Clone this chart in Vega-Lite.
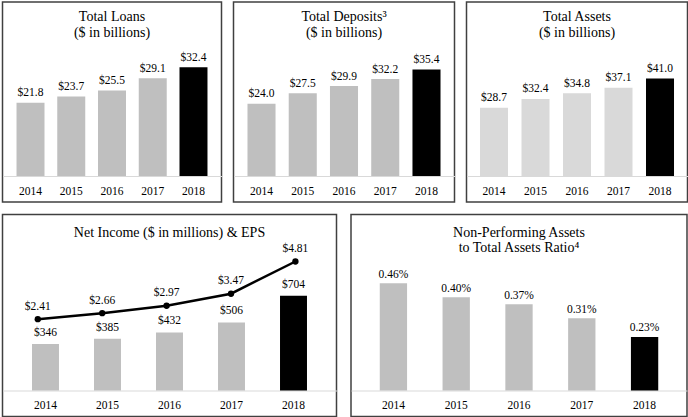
{
  "$schema": "https://vega.github.io/schema/vega-lite/v6.json",
  "background": "white",
  "padding": {"left": 1.5, "top": 1, "right": 0, "bottom": 0},
  "data": {
    "values": [
      {"year": "2014", "loans": 21.8, "deposits": 24.0, "assets": 28.7, "netIncome": 346, "eps": 2.41, "npa": 0.0046},
      {"year": "2015", "loans": 23.7, "deposits": 27.5, "assets": 32.4, "netIncome": 385, "eps": 2.66, "npa": 0.0040},
      {"year": "2016", "loans": 25.5, "deposits": 29.9, "assets": 34.8, "netIncome": 432, "eps": 2.97, "npa": 0.0037},
      {"year": "2017", "loans": 29.1, "deposits": 32.2, "assets": 37.1, "netIncome": 506, "eps": 3.47, "npa": 0.0031},
      {"year": "2018", "loans": 32.4, "deposits": 35.4, "assets": 41.0, "netIncome": 704, "eps": 4.81, "npa": 0.0023}
    ]
  },
  "config": {
    "view": {"stroke": "#404040", "strokeWidth": 1.5},
    "font": "Liberation Serif, serif",
    "title": {"font": "Liberation Serif, serif", "fontSize": 14, "fontWeight": "normal", "color": "#000000", "lineHeight": 15.5, "baseline": "alphabetic", "frame": "group", "anchor": "middle"},
    "axis": {"grid": false, "title": null, "ticks": false, "tickSize": 0, "domainColor": "#d9d9d9", "domainWidth": 1, "labelFont": "Liberation Serif, serif", "labelFontSize": 11.5, "labelColor": "#000000", "labelBaseline": "middle", "labelAngle": 0, "offset": -26},
    "text": {"font": "Liberation Serif, serif", "fontSize": 11.5, "color": "#000000", "baseline": "alphabetic"}
  },
  "spacing": 10.5,
  "vconcat": [
    {
      "spacing": 10,
      "hconcat": [
        {
          "width": 219, "height": 200,
          "title": {"text": ["Total Loans", "($ in billions)"], "offset": -37.5},
          "encoding": {
            "x": {"field": "year", "type": "nominal", "scale": {"paddingInner": 0.313, "paddingOuter": 0.344}, "axis": {"labelPadding": 15.5}},
            "y": {"field": "loans", "type": "quantitative", "scale": {"domain": [-7.75, 51.86], "nice": false, "zero": false}, "axis": null}
          },
          "layer": [
            {"mark": {"type": "bar"}, "encoding": {"y2": {"datum": 0}, "color": {"condition": {"test": "datum.year === '2018'", "value": "#000000"}, "value": "#bfbfbf"}}},
            {"mark": {"type": "text", "dy": -6.5}, "encoding": {"text": {"field": "loans", "format": "$.1f"}}}
          ]
        },
        {
          "width": 221, "height": 200,
          "title": {"text": ["Total Deposits³", "($ in billions)"], "offset": -37.7},
          "encoding": {
            "x": {"field": "year", "type": "nominal", "scale": {"paddingInner": 0.32, "paddingOuter": 0.339}, "axis": {"labelPadding": 15.5}},
            "y": {"field": "deposits", "type": "quantitative", "scale": {"domain": [-8.64, 57.81], "nice": false, "zero": false}, "axis": null}
          },
          "layer": [
            {"mark": {"type": "bar"}, "encoding": {"y2": {"datum": 0}, "color": {"condition": {"test": "datum.year === '2018'", "value": "#000000"}, "value": "#bfbfbf"}}},
            {"mark": {"type": "text", "dy": -6.5}, "encoding": {"text": {"field": "deposits", "format": "$.1f"}}}
          ]
        },
        {
          "width": 221, "height": 200,
          "title": {"text": ["Total Assets", "($ in billions)"], "offset": -37.7},
          "encoding": {
            "x": {"field": "year", "type": "nominal", "scale": {"paddingInner": 0.325, "paddingOuter": 0.325}, "axis": {"labelPadding": 15.5}},
            "y": {"field": "assets", "type": "quantitative", "scale": {"domain": [-10.92, 73.11], "nice": false, "zero": false}, "axis": null}
          },
          "layer": [
            {"mark": {"type": "bar"}, "encoding": {"y2": {"datum": 0}, "color": {"condition": {"test": "datum.year === '2018'", "value": "#000000"}, "value": "#d9d9d9"}}},
            {"mark": {"type": "text", "dy": -6.5}, "encoding": {"text": {"field": "assets", "format": "$.1f"}}}
          ]
        }
      ]
    },
    {
      "spacing": 12.5,
      "hconcat": [
        {
          "width": 334, "height": 202,
          "title": {"text": "Net Income ($ in millions)  & EPS", "offset": -25.2},
          "layer": [
            {
              "encoding": {
                "x": {"field": "year", "type": "nominal", "scale": {"paddingInner": 0.565, "paddingOuter": 0.476}, "axis": {"labelPadding": 14.5}},
                "y": {"field": "netIncome", "type": "quantitative", "scale": {"domain": [-193.3, 1308.6], "nice": false, "zero": false}, "axis": null}
              },
              "layer": [
                {"mark": {"type": "bar"}, "encoding": {"y2": {"datum": 0}, "color": {"condition": {"test": "datum.year === '2018'", "value": "#000000"}, "value": "#bfbfbf"}}},
                {"mark": {"type": "text", "dy": -8}, "encoding": {"text": {"field": "netIncome", "format": "$.0f"}}}
              ]
            },
            {
              "encoding": {
                "x": {"field": "year", "type": "nominal", "scale": {"type": "point", "padding": 0.593, "align": 0.462}, "axis": null},
                "y": {"field": "eps", "type": "quantitative", "scale": {"domain": [-1.637, 6.765], "nice": false, "zero": false}, "axis": null}
              },
              "layer": [
                {"mark": {"type": "line", "color": "#000000", "strokeWidth": 2.5}},
                {"mark": {"type": "point", "filled": true, "color": "#000000", "size": 40, "opacity": 1}},
                {"mark": {"type": "text", "dy": -9.5}, "encoding": {"text": {"field": "eps", "format": "$.2f"}}}
              ]
            }
          ],
          "resolve": {"scale": {"x": "independent", "y": "independent"}}
        },
        {
          "width": 336, "height": 202,
          "title": {"text": ["Non-Performing Assets", "to Total Assets Ratio⁴"], "offset": -40.7, "lineHeight": 15.6},
          "encoding": {
            "x": {"field": "year", "type": "nominal", "scale": {"paddingInner": 0.565, "paddingOuter": 0.458}, "axis": {"labelPadding": 14.5}},
            "y": {"field": "npa", "type": "quantitative", "scale": {"domain": [-0.001116, 0.007554], "nice": false, "zero": false}, "axis": null}
          },
          "layer": [
            {"mark": {"type": "bar"}, "encoding": {"y2": {"datum": 0}, "color": {"condition": {"test": "datum.year === '2018'", "value": "#000000"}, "value": "#bfbfbf"}}},
            {"mark": {"type": "text", "dy": -5.5}, "encoding": {"text": {"field": "npa", "format": ".2%"}}}
          ]
        }
      ]
    }
  ]
}
